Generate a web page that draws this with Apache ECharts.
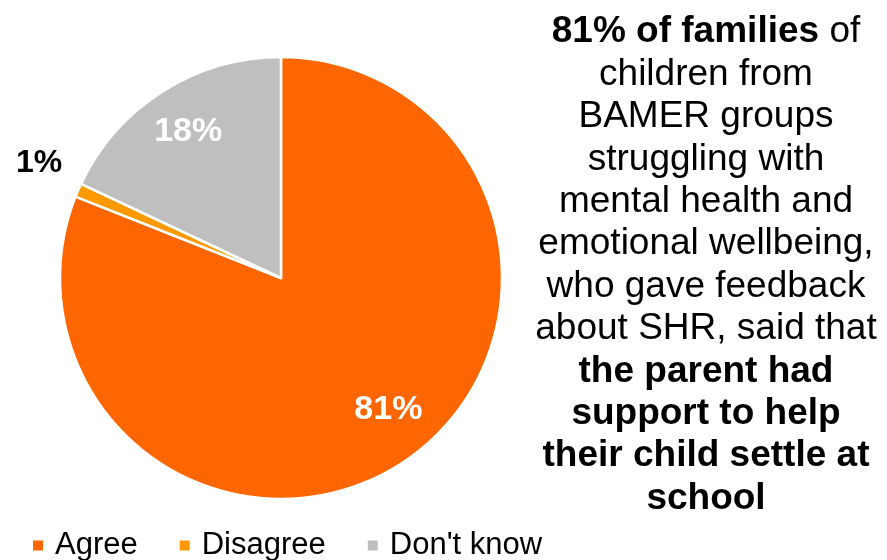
<!DOCTYPE html>
<html>
<head>
<meta charset="utf-8">
<script src="https://cdn.jsdelivr.net/npm/echarts@6/dist/echarts.min.js"></script>
<style>
  html, body { margin: 0; padding: 0; background: #ffffff; }
  #chart { width: 887px; height: 560px; }
</style>
</head>
<body>
<div id="chart"></div>
<script>
// Survey responses (percent of families)
const categories = ['Agree', 'Disagree', "Don't know"];
const values = [81, 1, 18];
const sliceColors = ['#FF6600', '#FF9900', '#BFBFBF'];
const labelColors = ['#ffffff', '#000000', '#ffffff'];
const labelPositions = ['inside', 'outside', 'inside'];

// Statement shown to the right of the pie, one entry per line: [style, text]
const statementLines = [
  [['b', '81% of families'], ['n', ' of']],
  [['n', 'children from']],
  [['n', 'BAMER groups']],
  [['n', 'struggling with']],
  [['n', 'mental health and']],
  [['n', 'emotional wellbeing,']],
  [['n', 'who gave feedback']],
  [['n', 'about SHR, said that']],
  [['b', 'the parent had']],
  [['b', 'support to help']],
  [['b', 'their child settle at']],
  [['b', 'school']]
];

const FONT = '"Liberation Sans", Arial, Helvetica, sans-serif';
const R = 221;
const CENTER = [281, 278];

const pieData = categories.map((name, i) => ({
  name: name,
  value: values[i],
  itemStyle: { color: sliceColors[i] }
}));

// Transparent ring on top of the pie that carries the percentage labels,
// so the inside labels sit about three quarters of the way out.
const labelData = categories.map((name, i) => ({
  name: name,
  value: values[i],
  itemStyle: { color: 'rgba(0,0,0,0)', borderWidth: 0 },
  label: {
    position: labelPositions[i],
    color: labelColors[i],
    fontSize: labelPositions[i] === 'outside' ? 32 : 34
  }
}));

const statementText = statementLines
  .map(line => line.map(([s, t]) => '{' + s + '|' + t + '}').join(''))
  .join('\n');

const chart = echarts.init(document.getElementById('chart'), null, { renderer: 'canvas' });

chart.setOption({
  animation: false,
  backgroundColor: '#ffffff',
  textStyle: { fontFamily: FONT },
  legend: {
    data: categories,
    left: 26,
    top: 525,
    icon: 'rect',
    itemWidth: 12,
    itemHeight: 12,
    itemGap: 40,
    selectedMode: false,
    textStyle: {
      fontFamily: FONT,
      fontSize: 31,
      color: '#000000',
      padding: [0, 0, 0, 6]
    }
  },
  series: [
    {
      name: 'Responses',
      type: 'pie',
      center: CENTER,
      radius: [0, R],
      startAngle: 90,
      clockwise: true,
      silent: true,
      label: { show: false },
      labelLine: { show: false },
      itemStyle: { borderColor: '#ffffff', borderWidth: 2.5 },
      emphasis: { disabled: true },
      data: pieData
    },
    {
      name: 'Labels',
      type: 'pie',
      center: CENTER,
      radius: [R * 0.54, R],
      startAngle: 90,
      clockwise: true,
      silent: true,
      avoidLabelOverlap: false,
      emphasis: { disabled: true },
      label: {
        show: true,
        formatter: '{c}%',
        fontFamily: FONT,
        fontWeight: 'bold'
      },
      labelLine: { show: false, length: 12, length2: 0 },
      labelLayout: function (p) {
        if (p.dataIndex === 0) return { dx: 10, dy: -12 };
        if (p.dataIndex === 1) return { dy: -22 };
        return {};
      },
      data: labelData
    }
  ],
  graphic: [
    {
      type: 'text',
      x: 706,
      y: 11,
      silent: true,
      style: {
        text: statementText,
        align: 'center',
        verticalAlign: 'top',
        fill: '#000000',
        rich: {
          b: { fontFamily: FONT, fontSize: 37, fontWeight: 'bold', lineHeight: 42.4, fill: '#000000', align: 'center' },
          n: { fontFamily: FONT, fontSize: 37, fontWeight: 'normal', lineHeight: 42.4, fill: '#000000', align: 'center' }
        }
      }
    }
  ]
});
</script>
</body>
</html>
